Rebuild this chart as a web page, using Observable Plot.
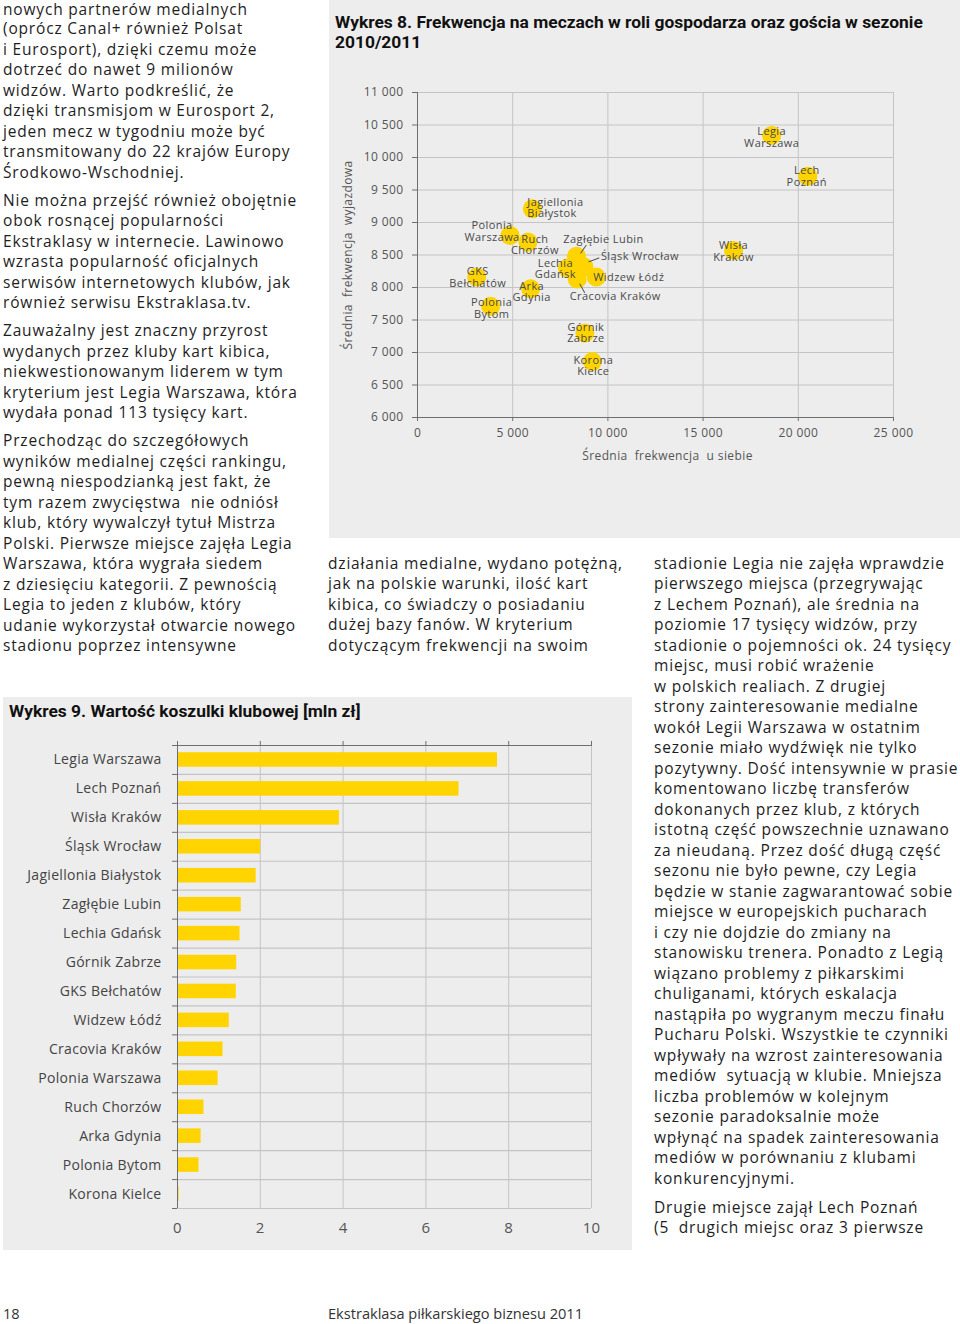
<!DOCTYPE html>
<html lang="pl"><head><meta charset="utf-8">
<script src="https://cdn.jsdelivr.net/npm/d3@7"></script>
<script src="https://cdn.jsdelivr.net/npm/@observablehq/plot@0.6"></script>
<style>
html,body{margin:0;padding:0}
body{width:960px;height:1324px;position:relative;background:#fff;font-family:"Open Sans",sans-serif;color:#1e1e1e;overflow:hidden}
.col{position:absolute;font-size:15.5px;line-height:20.5px;white-space:pre;letter-spacing:0.82px}
.col p{margin:0 0 7.5px 0}
.panel{position:absolute;background:#ededed}
.title{position:absolute;font-family:Roboto,sans-serif;font-weight:700;font-size:17.4px;line-height:20.5px;color:#111;white-space:pre}
.chart{position:absolute}
.scatter text{letter-spacing:0.4px}
.bars text{letter-spacing:0.3px}
.footer{position:absolute;font-size:14.6px;color:#333;top:1303px}
</style>
</head><body>
<div class="col" style="left:3px;top:0px"><p style="line-height:18px;margin-bottom:0">nowych partnerów medialnych</p><p>(oprócz Canal+ również Polsat
i Eurosport), dzięki czemu może
dotrzeć do nawet 9 milionów
widzów. Warto podkreślić, że
dzięki transmisjom w Eurosport 2,
jeden mecz w tygodniu może być
transmitowany do 22 krajów Europy
Środkowo-Wschodniej.</p><p>Nie można przejść również obojętnie
obok rosnącej popularności
Ekstraklasy w internecie. Lawinowo
wzrasta popularność oficjalnych
serwisów internetowych klubów, jak
również serwisu Ekstraklasa.tv.</p><p>Zauważalny jest znaczny przyrost
wydanych przez kluby kart kibica,
niekwestionowanym liderem w tym
kryterium jest Legia Warszawa, która
wydała ponad 113 tysięcy kart.</p><p>Przechodząc do szczegółowych
wyników medialnej części rankingu,
pewną niespodzianką jest fakt, że
tym razem zwycięstwa  nie odniósł
klub, który wywalczył tytuł Mistrza
Polski. Pierwsze miejsce zajęła Legia
Warszawa, która wygrała siedem
z dziesięciu kategorii. Z pewnością
Legia to jeden z klubów, który
udanie wykorzystał otwarcie nowego
stadionu poprzez intensywne</p></div>

<div class="col" style="left:328px;top:552.5px"><p>działania medialne, wydano potężną,
jak na polskie warunki, ilość kart
kibica, co świadczy o posiadaniu
dużej bazy fanów. W kryterium
dotyczącym frekwencji na swoim</p></div>

<div class="col" style="left:654px;top:552.5px"><p style="margin-bottom:8.5px">stadionie Legia nie zajęła wprawdzie
pierwszego miejsca (przegrywając
z Lechem Poznań), ale średnia na
poziomie 17 tysięcy widzów, przy
stadionie o pojemności ok. 24 tysięcy
miejsc, musi robić wrażenie
w polskich realiach. Z drugiej
strony zainteresowanie medialne
wokół Legii Warszawa w ostatnim
sezonie miało wydźwięk nie tylko
pozytywny. Dość intensywnie w prasie
komentowano liczbę transferów
dokonanych przez klub, z których
istotną część powszechnie uznawano
za nieudaną. Przez dość długą część
sezonu nie było pewne, czy Legia
będzie w stanie zagwarantować sobie
miejsce w europejskich pucharach
i czy nie dojdzie do zmiany na
stanowisku trenera. Ponadto z Legią
wiązano problemy z piłkarskimi
chuliganami, których eskalacja
nastąpiła po wygranym meczu finału
Pucharu Polski. Wszystkie te czynniki
wpływały na wzrost zainteresowania
mediów  sytuacją w klubie. Mniejsza
liczba problemów w kolejnym
sezonie paradoksalnie może
wpłynąć na spadek zainteresowania
mediów w porównaniu z klubami
konkurencyjnymi.</p><p>Drugie miejsce zajął Lech Poznań
(5  drugich miejsc oraz 3 pierwsze</p></div>

<div class="panel" style="left:329px;top:0;width:631px;height:538px"></div>
<div class="title" style="left:335px;top:11.5px">Wykres 8. Frekwencja na meczach w roli gospodarza oraz gościa w sezonie
2010/2011</div>
<div class="chart" id="chart8" style="left:330px;top:60px"></div>

<div class="panel" style="left:3px;top:697px;width:629px;height:553px"></div>
<div class="title" style="left:9px;top:700.5px">Wykres 9. Wartość koszulki klubowej [mln zł]</div>
<div class="chart" id="chart9" style="left:3px;top:730px"></div>

<div class="footer" style="left:3px">18</div>
<div class="footer" style="left:328px">Ekstraklasa piłkarskiego biznesu 2011</div>

<script>
// ---------- Data: Wykres 8 ----------
const clubs = ["Legia Warszawa","Lech Poznań","Wisła Kraków","Jagiellonia Białystok","Polonia Warszawa","Ruch Chorzów","Zagłębie Lubin","Śląsk Wrocław","Lechia Gdańsk","Widzew Łódź","Cracovia Kraków","GKS Bełchatów","Arka Gdynia","Polonia Bytom","Górnik Zabrze","Korona Kielce"];
const homeAttendance = [18600, 20500, 16600, 6030, 4860, 5800, 8350, 8740, 7870, 9390, 8390, 3110, 5940, 3840, 8790, 9180];
const awayAttendance = [10340, 9710, 8570, 9210, 8800, 8700, 8480, 8320, 8300, 8160, 8130, 8160, 7980, 7710, 7300, 6860];
const homeTicks = [0, 5000, 10000, 15000, 20000, 25000];
const awayTicks = [6000, 6500, 7000, 7500, 8000, 8500, 9000, 9500, 10000, 10500, 11000];
const xTitle8 = "Średnia  frekwencja  u siebie";
const yTitle8 = "Średnia  frekwencja  wyjazdowa";

// ---------- Data: Wykres 9 ----------
const shirtClubs = ["Legia Warszawa","Lech Poznań","Wisła Kraków","Śląsk Wrocław","Jagiellonia Białystok","Zagłębie Lubin","Lechia Gdańsk","Górnik Zabrze","GKS Bełchatów","Widzew Łódź","Cracovia Kraków","Polonia Warszawa","Ruch Chorzów","Arka Gdynia","Polonia Bytom","Korona Kielce"];
const shirtValue = [7.73, 6.80, 3.91, 2.01, 1.90, 1.54, 1.51, 1.43, 1.42, 1.25, 1.10, 0.98, 0.64, 0.57, 0.52, 0.04];
const valueTicks = [0, 2, 4, 6, 8, 10];

// ---------- Label layout (pixel offsets for annotations) ----------
const labelLayout = {
  "Legia Warszawa": {dx: 0, dy: 2},
  "Lech Poznań": {dx: -1, dy: 0},
  "Wisła Kraków": {dx: 0, dy: 1},
  "Jagiellonia Białystok": {dx: -5, dy: -1, anchor: "start"},
  "Polonia Warszawa": {dx: -18, dy: -4},
  "Ruch Chorzów": {dx: 7, dy: 3},
  "Zagłębie Lubin": {dx: 27, dy: -17, oneLine: true, leader: [4.3, -3.3, 9.7, -11]},
  "Śląsk Wrocław": {dx: 17, dy: -10, anchor: "start", oneLine: true, leader: [5, -5, 15, -8.7]},
  "Lechia Gdańsk": {dx: -12, dy: 1},
  "Widzew Łódź": {dx: -3, dy: 0, anchor: "start", oneLine: true},
  "Cracovia Kraków": {dx: 38, dy: 17, oneLine: true, leader: [2.6, 5, 7.3, 13.4]},
  "GKS Bełchatów": {dx: 1, dy: 0},
  "Arka Gdynia": {dx: 1, dy: 3},
  "Polonia Bytom": {dx: 1, dy: 2},
  "Górnik Zabrze": {dx: 1, dy: 0},
  "Korona Kielce": {dx: 1, dy: 4}
};

const yellow = "#ffd400";
const gridColor = "#c4c4c4";
const axisColor = "#6e6e6e";
const labelColor = "#4a4a4a";
const fmt = d => d3.format(",")(d).replace(/,/g, " ");

const attendance = clubs.map((name, i) => ({name, home: homeAttendance[i], away: awayAttendance[i]}));

const lineShape = {draw(context, l) { context.moveTo(0, 0); context.lineTo(0, -l); }};

const labelMarks = attendance.map(d => {
  const L = labelLayout[d.name];
  return Plot.text([d], {
    x: "home", y: "away",
    text: e => L.oneLine ? e.name : e.name.replace(" ", "\n"),
    dx: L.dx, dy: L.dy, textAnchor: L.anchor || "middle",
    lineHeight: 1.05, fontSize: 11, fill: labelColor
  });
});
const leaderMarks = attendance.filter(d => labelLayout[d.name].leader).map(d => {
  const [sx, sy, ex, ey] = labelLayout[d.name].leader;
  const vx = ex - sx, vy = ey - sy;
  return Plot.vector([d], {
    x: "home", y: "away", dx: sx, dy: sy,
    length: Math.hypot(vx, vy), rotate: Math.atan2(vx, -vy) * 180 / Math.PI,
    anchor: "start", shape: lineShape, stroke: "#555", strokeWidth: 1
  });
});

const chart8 = Plot.plot({
  className: "scatter",
  width: 630, height: 420,
  marginLeft: 87, marginRight: 67, marginTop: 32, marginBottom: 63,
  style: {background: "transparent", fontFamily: "Open Sans, sans-serif", fontSize: "12px", color: "#555", overflow: "visible"},
  x: {domain: [0, 25000]},
  y: {domain: [6000, 11000]},
  marks: [
    Plot.gridX(homeTicks, {stroke: gridColor, strokeOpacity: 1}),
    Plot.gridY(awayTicks, {stroke: gridColor, strokeOpacity: 1}),
    Plot.axisX(homeTicks, {tickSize: 4, tickPadding: 7, tickFormat: fmt, label: null, stroke: axisColor, fill: "#555", fontSize: 12}),
    Plot.axisY(awayTicks, {tickSize: 5, tickPadding: 9, tickFormat: fmt, label: null, stroke: axisColor, fill: "#555", fontSize: 12}),
    Plot.ruleX([0], {stroke: axisColor}),
    Plot.ruleY([6000], {stroke: axisColor}),
    Plot.text([xTitle8], {text: d => d, frameAnchor: "bottom", dy: 42, dx: 12, fill: "#555", fontSize: 12}),
    Plot.text([yTitle8], {text: d => d, frameAnchor: "left", textAnchor: "middle", rotate: -90, dx: -69, dy: 0, fill: "#555", fontSize: 12}),
    Plot.dot(attendance, {x: "home", y: "away", r: 9.5, fill: yellow, stroke: null}),
    ...leaderMarks,
    ...labelMarks
  ]
});
document.getElementById("chart8").append(chart8);

// ---------- Wykres 9 ----------
const shirtData = shirtClubs.map((club, i) => ({club, value: shirtValue[i]}));
const W9 = 629, H9 = 520, mt9 = 15, mb9 = 42, ml9 = 174, mr9 = 41;
const step9 = (H9 - mt9 - mb9) / shirtClubs.length;

const chart9 = Plot.plot({
  className: "bars",
  width: W9, height: H9,
  marginLeft: ml9, marginRight: mr9, marginTop: mt9, marginBottom: mb9,
  style: {background: "transparent", fontFamily: "Open Sans, sans-serif", color: "#444", overflow: "visible"},
  x: {domain: [0, 10]},
  y: {domain: shirtClubs, padding: 0, round: false},
  marks: [
    Plot.gridX(valueTicks, {stroke: gridColor, strokeOpacity: 1}),
    Plot.ruleY(shirtClubs, {y: d => d, dy: step9 / 2, stroke: gridColor, strokeWidth: 1.2}),
    Plot.barX(shirtData, {x: "value", y: "club", fill: yellow, insetTop: 7.2, insetBottom: 7.2}),
    Plot.ruleY([shirtClubs[0]], {y: d => d, dy: -step9 / 2, stroke: axisColor}),
    Plot.ruleY(shirtClubs, {y: d => d, dy: step9 / 2, x1: 0, x2: 0, insetLeft: -5, stroke: axisColor}),
    Plot.ruleY([shirtClubs[0]], {y: d => d, dy: -step9 / 2, x1: 0, x2: 0, insetLeft: -5, stroke: axisColor}),
    Plot.ruleX([0], {stroke: axisColor}),
    Plot.axisX(valueTicks, {anchor: "top", tickSize: 5, tickFormat: () => "", label: null, stroke: axisColor}),
    Plot.axisX(valueTicks, {anchor: "bottom", tickSize: 0, tickPadding: 14, label: null, fontSize: 15, fill: "#555"}),
    Plot.axisY({tickSize: 0, tickPadding: 16, label: null, fontSize: 14, fill: "#444"})
  ]
});
document.getElementById("chart9").append(chart9);
</script>
</body></html>
